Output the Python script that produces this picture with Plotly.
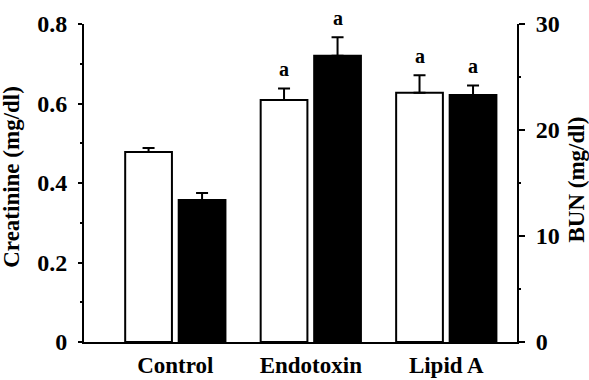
import plotly.graph_objects as go

# Group labels and measurements (mean and upper SEM)
categories = ["Control", "Endotoxin", "Lipid A"]
creatinine = [0.478, 0.609, 0.627]          # mg/dl, left axis (open bars)
creatinine_sem = [0.010, 0.029, 0.044]
bun = [13.4, 27.0, 23.3]                    # mg/dl, right axis (filled bars)
bun_sem = [0.65, 1.75, 0.9]
creatinine_sig = ["", "a", "a"]
bun_sig = ["", "a", "a"]

x_pos = list(range(len(categories)))
BAR_W = 0.345
FONT = "Liberation Serif, Times New Roman, serif"

fig = go.Figure()

fig.add_trace(go.Bar(
    x=x_pos, y=creatinine, width=BAR_W, offset=-0.37,
    marker=dict(color="white", line=dict(color="black", width=2)),
    error_y=dict(type="data", symmetric=False, array=creatinine_sem,
                 arrayminus=[0] * len(creatinine), color="black",
                 thickness=2, width=6),
    yaxis="y", showlegend=False,
))
fig.add_trace(go.Bar(
    x=x_pos, y=bun, width=BAR_W, offset=0.025,
    marker=dict(color="black", line=dict(color="black", width=2)),
    error_y=dict(type="data", symmetric=False, array=bun_sem,
                 arrayminus=[0] * len(bun), color="black",
                 thickness=2, width=6),
    yaxis="y2", showlegend=False,
))

sig_font = dict(family=FONT, size=20, color="black")
tick_font = dict(family=FONT, size=24, color="black")
cat_font = dict(family=FONT, size=23, color="black")
title_font = dict(family=FONT, size=23, color="black")


def bold(s):
    return "<b>" + s + "</b>"


# significance marks above the error bars
annotations = []
for i, (lab, v, e) in enumerate(zip(creatinine_sig, creatinine, creatinine_sem)):
    if lab:
        annotations.append(dict(x=i - 0.37 + BAR_W / 2, y=v + e, xref="x", yref="y",
                                text=bold(lab), showarrow=False, yanchor="bottom", yshift=6,
                                font=sig_font))
for i, (lab, v, e) in enumerate(zip(bun_sig, bun, bun_sem)):
    if lab:
        annotations.append(dict(x=i + 0.025 + BAR_W / 2, y=v + e, xref="x", yref="y2",
                                text=bold(lab), showarrow=False, yanchor="bottom", yshift=6,
                                font=sig_font))

# axis titles, both reading bottom-to-top
annotations.append(dict(text=bold("Creatinine (mg/dl)"), xref="paper", yref="paper",
                        x=-0.166, y=0.52, textangle=-90, showarrow=False,
                        xanchor="center", yanchor="middle", font=title_font))
annotations.append(dict(text=bold("BUN (mg/dl)"), xref="paper", yref="paper",
                        x=1.138, y=0.51, textangle=-90, showarrow=False,
                        xanchor="center", yanchor="middle", font=title_font))

fig.update_layout(
    width=589, height=380,
    margin=dict(l=84, r=72, t=24, b=38),
    paper_bgcolor="white", plot_bgcolor="white",
    barmode="overlay",
    font=dict(family=FONT, color="black"),
    annotations=annotations,
    xaxis=dict(
        range=[-0.674, 2.522], tickmode="array", tickvals=x_pos,
        ticktext=[bold(c) for c in categories],
        tickfont=cat_font, ticks="", showgrid=False, zeroline=False,
        showline=True, linecolor="black", linewidth=2, ticklabelstandoff=1,
        automargin=False,
    ),
    yaxis=dict(
        range=[0, 0.8], tickvals=[0, 0.2, 0.4, 0.6, 0.8],
        ticktext=[bold(t) for t in ["0", "0.2", "0.4", "0.6", "0.8"]],
        tickfont=tick_font, ticks="outside", ticklen=4, tickwidth=2, tickcolor="black",
        minor=dict(tickvals=[0.1, 0.3, 0.5, 0.7], ticks="outside", ticklen=2, tickwidth=2, tickcolor="black"),
        showgrid=False, zeroline=False, showline=True, linecolor="black", linewidth=2,
        ticklabelstandoff=6, automargin=False,
    ),
    yaxis2=dict(
        range=[0, 30], overlaying="y", side="right", anchor="x",
        tickvals=[0, 10, 20, 30],
        ticktext=[bold(t) for t in ["0", "10", "20", "30"]],
        tickfont=tick_font, ticks="outside", ticklen=6, tickwidth=2, tickcolor="black",
        minor=dict(tickvals=[5, 15, 25], ticks="outside", ticklen=2, tickwidth=2, tickcolor="black"),
        showgrid=False, zeroline=False, showline=True, linecolor="black", linewidth=2,
        ticklabelstandoff=6, automargin=False,
    ),
)

fig.write_html("out.html")
